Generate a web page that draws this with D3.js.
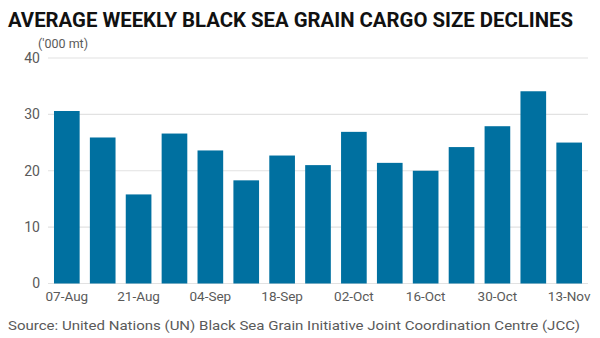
<!DOCTYPE html>
<html><head><meta charset="utf-8">
<script src="https://cdn.jsdelivr.net/npm/d3@7"></script>
<style>body{margin:0;background:#fff}svg{display:block}</style>
</head><body>
<svg id="c" width="600" height="338"></svg>
<script>
const categories = ["07-Aug","14-Aug","21-Aug","28-Aug","04-Sep","11-Sep","18-Sep","25-Sep","02-Oct","09-Oct","16-Oct","23-Oct","30-Oct","06-Nov","13-Nov"];
const values = [30.6,25.9,15.8,26.6,23.6,18.3,22.7,21.0,26.9,21.4,20.0,24.2,27.9,34.1,25.0];
const yTicks = [0,10,20,30,40];
const xTickLabels = ["07-Aug","21-Aug","04-Sep","18-Sep","02-Oct","16-Oct","30-Oct","13-Nov"];
const title = "AVERAGE WEEKLY BLACK SEA GRAIN CARGO SIZE DECLINES";
const unitLabel = "('000 mt)";
const source = "Source: United Nations (UN) Black Sea Grain Initiative Joint Coordination Centre (JCC)";

const svg = d3.select("#c");
const font = "Roboto, 'Noto Sans', sans-serif";
const x = d3.scaleBand().domain(categories).range([48,588]).paddingInner(0.285).paddingOuter(0.167);
const y = d3.scaleLinear().domain([0,40]).range([283.5,58]);

svg.append("text").attr("x",8).attr("y",27).attr("font-family",font).attr("font-weight",700)
  .attr("font-size",21).attr("fill","#111").attr("textLength",565).attr("lengthAdjust","spacingAndGlyphs").text(title);

// gridlines
svg.append("g").selectAll("line").data(yTicks).join("line")
  .attr("x1",48).attr("x2",588).attr("y1",d=>y(d)).attr("y2",d=>y(d))
  .attr("stroke","#e2e2e2").attr("stroke-width",1.2);

// y axis labels
const yAxis = d3.axisLeft(y).tickValues(yTicks).tickSize(0).tickPadding(0);
const ya = svg.append("g").attr("transform","translate(40,0)").call(yAxis);
ya.select(".domain").remove();
ya.selectAll("text").attr("font-family",font).attr("font-size",14).attr("fill","#5a5a5a");

svg.append("text").attr("x",38).attr("y",48).attr("font-family",font).attr("font-size",12.5)
  .attr("fill","#5a5a5a").text(unitLabel);

// bars
svg.append("g").selectAll("rect").data(values).join("rect")
  .attr("x",(d,i)=>x(categories[i])).attr("width",x.bandwidth())
  .attr("y",d=>y(d)).attr("height",d=>y(0)-y(d)).attr("fill","#0070a0");

// x axis
const xAxis = d3.axisBottom(x).tickValues(xTickLabels).tickSize(0).tickPadding(0);
const xa = svg.append("g").attr("transform","translate(0,291)").call(xAxis);
xa.select(".domain").remove();
xa.selectAll("text").attr("font-family",font).attr("font-size",13.5).attr("fill","#5a5a5a");

svg.append("text").attr("x",8).attr("y",330).attr("font-family",font).attr("font-size",13.5)
  .attr("fill","#5a5a5a").attr("textLength",572).attr("lengthAdjust","spacingAndGlyphs").text(source);
</script>
</body></html>
